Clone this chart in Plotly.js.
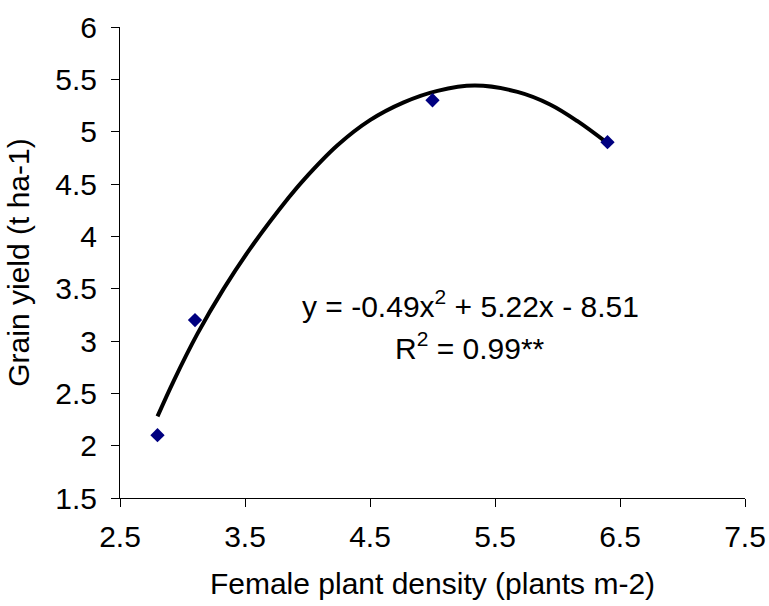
<!DOCTYPE html>
<html>
<head>
<meta charset="utf-8">
<script src="https://cdn.plot.ly/plotly-3.0.1.min.js"></script>
<style>html,body{margin:0;padding:0;background:#fff;}#chart{width:769px;height:606px;}</style>
</head>
<body>
<div id="chart"></div>
<script>
// Observed data points
const density = [2.8, 3.1, 5.0, 6.4];
const grainYield = [2.1, 3.2, 5.3, 4.9];

// Trendline
const trendX = [2.8, 2.93, 3.12, 3.33, 3.54, 3.85, 3.97, 4.24, 4.5, 4.77, 5.04, 5.34, 5.68, 5.94, 6.16, 6.4];
const trendY = [2.28, 2.62, 3.07, 3.5, 3.88, 4.37, 4.54, 4.87, 5.11, 5.28, 5.39, 5.44, 5.38, 5.26, 5.1, 4.89];

const xTicks = [2.5, 3.5, 4.5, 5.5, 6.5, 7.5];
const yTicks = [1.5, 2, 2.5, 3, 3.5, 4, 4.5, 5, 5.5, 6];

const eqLine1 = 'y = -0.49x<sup>2</sup> + 5.22x - 8.51';
const eqLine2 = 'R<sup>2</sup> = 0.99**';

const FONT = 'Liberation Sans, Arial, sans-serif';
const FS = 30;

const traces = [
  {
    x: trendX, y: trendY, type: 'scatter', mode: 'lines',
    line: {color: '#000000', width: 4, shape: 'spline', smoothing: 1},
    hoverinfo: 'skip', showlegend: false
  },
  {
    x: density, y: grainYield, type: 'scatter', mode: 'markers',
    marker: {symbol: 'diamond', size: 11, color: '#000080'},
    showlegend: false
  }
];

const layout = {
  width: 769, height: 606,
  margin: {l: 119.5, r: 24, t: 27, b: 107.7},
  paper_bgcolor: '#ffffff', plot_bgcolor: '#ffffff',
  font: {family: FONT, size: FS, color: '#000000'},
  showlegend: false,
  xaxis: {
    range: [2.5, 7.5], tickvals: xTicks, ticktext: xTicks.map(v => v.toFixed(1)),
    showgrid: false, zeroline: false,
    showline: true, linecolor: '#000000', linewidth: 1,
    ticks: 'outside', ticklen: 8, tickcolor: '#000000', tickwidth: 1,
    ticklabelstandoff: 4,
    tickfont: {family: FONT, size: FS, color: '#000000'},
    title: {text: 'Female plant density (plants m-2)', font: {family: FONT, size: FS, color: '#000000'}, standoff: 20}
  },
  yaxis: {
    range: [1.5, 6], tickvals: yTicks, ticktext: yTicks.map(v => String(v)),
    showgrid: false, zeroline: false,
    showline: true, linecolor: '#000000', linewidth: 1,
    ticks: 'outside', ticklen: 8, tickcolor: '#000000', tickwidth: 1,
    ticklabelstandoff: 8,
    tickfont: {family: FONT, size: FS, color: '#000000'},
    title: {text: 'Grain yield (t ha-1)', font: {family: FONT, size: FS, color: '#000000'}, standoff: 16}
  },
  annotations: [
    {x: 5.3, y: 3.35, xref: 'x', yref: 'y', text: eqLine1, showarrow: false,
     xanchor: 'center', yanchor: 'middle', font: {family: FONT, size: FS, color: '#000000'}},
    {x: 5.3, y: 2.95, xref: 'x', yref: 'y', text: eqLine2, showarrow: false,
     xanchor: 'center', yanchor: 'middle', font: {family: FONT, size: FS, color: '#000000'}}
  ]
};

Plotly.newPlot('chart', traces, layout, {displayModeBar: false, staticPlot: true});
</script>
</body>
</html>
